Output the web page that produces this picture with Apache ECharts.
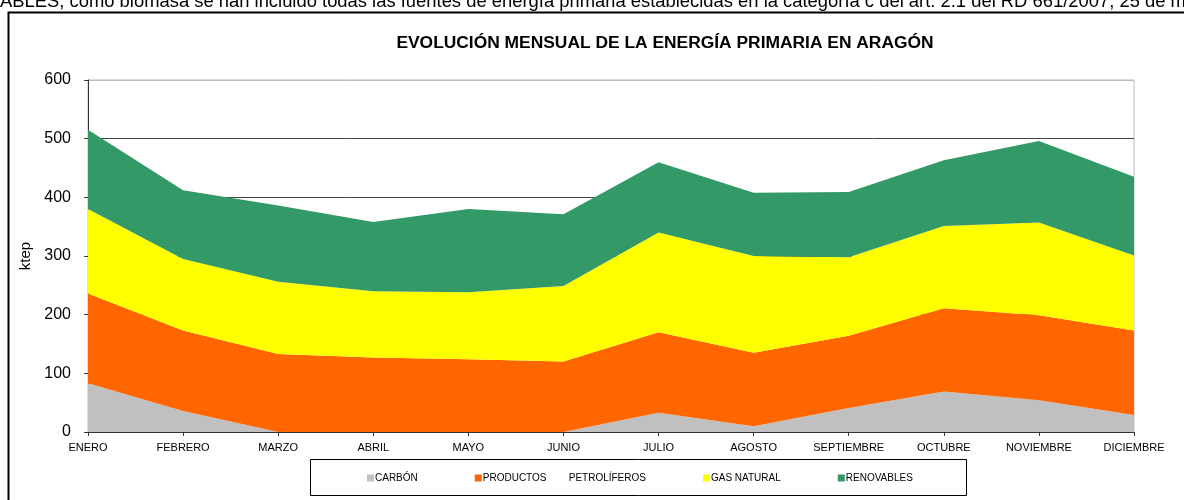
<!DOCTYPE html>
<html>
<head>
<meta charset="utf-8">
<script src="https://cdn.jsdelivr.net/npm/echarts@6/dist/echarts.min.js"></script>
<style>html,body{margin:0;padding:0;background:#fff}#c{width:1184px;height:500px}</style>
</head>
<body>
<div id="c"></div>
<script>
const categories = ['ENERO','FEBRERO','MARZO','ABRIL','MAYO','JUNIO','JULIO','AGOSTO','SEPTIEMBRE','OCTUBRE','NOVIEMBRE','DICIEMBRE'];
const carbon = [83, 36, 0, 0, 0, 0, 33, 10, 41, 69, 54, 29];
const productos = [153, 137, 133, 127, 124, 120, 137, 125, 123, 142, 145, 144];
const gasNatural = [144, 122, 123, 113, 114, 129, 170, 165, 134, 140, 158, 128];
const renovables = [135, 117, 130, 118, 142, 122, 120, 108, 111, 112, 139, 134];
const yTicks = [0, 100, 200, 300, 400, 500, 600];
const seriesNames = ['CARBÓN', 'PRODUCTOS PETROLÍFEROS', 'GAS NATURAL', 'RENOVABLES'];
const colors = ['#C0C0C0', '#FF6600', '#FFFF00', '#339966'];

const chart = echarts.init(document.getElementById('c'), null, {renderer: 'canvas'});
const font = '"Liberation Sans", Arial, sans-serif';
const mk = (name, data, i) => ({
  name, type: 'line', stack: 'total', data,
  showSymbol: false, symbol: 'none',
  lineStyle: {width: 0},
  itemStyle: {color: colors[i]},
  areaStyle: {color: colors[i], opacity: 1},
  emphasis: {disabled: true}
});
chart.setOption({
  animation: false,
  color: colors,
  grid: {left: 88, right: 50, top: 80, bottom: 68, show: true, borderColor: '#BBBBBB', borderWidth: 1, backgroundColor: 'transparent'},
  title: {
    text: 'EVOLUCIÓN MENSUAL DE LA ENERGÍA PRIMARIA EN ARAGÓN',
    left: 660, top: 30, textAlign: 'center',
    textStyle: {fontFamily: font, fontSize: 17.4, fontWeight: 'bold', color: '#000'}
  },
  legend: {
    left: 367, top: 473, padding: 0,
    icon: 'rect', itemWidth: 7, itemHeight: 7, itemGap: 57,
    formatter: n => n === 'PRODUCTOS PETROLÍFEROS' ? 'PRODUCTOS        PETROLÍFEROS' : n,
    textStyle: {fontFamily: font, fontSize: 10, color: '#000', padding: [0, 0, 0, -4]},
    data: seriesNames
  },
  xAxis: {
    type: 'category', data: categories, boundaryGap: false,
    axisLine: {lineStyle: {color: '#333', width: 1}},
    axisTick: {show: true, length: 4, lineStyle: {color: '#333'}},
    axisLabel: {fontFamily: font, fontSize: 11, color: '#000', margin: 10, interval: 0}
  },
  yAxis: {
    type: 'value', min: 0, max: 600, interval: 100,
    axisLine: {show: true, lineStyle: {color: '#333', width: 1}},
    axisTick: {show: true, length: 4, lineStyle: {color: '#333'}},
    axisLabel: {fontFamily: font, fontSize: 16, color: '#000', margin: 17,
      formatter: v => yTicks.includes(v) ? String(v) : ''},
    splitLine: {show: true, lineStyle: {color: ['#333','#444','#444','#444','#444','#444','#BBBBBB'], width: 1}},
    name: 'ktep', nameLocation: 'middle', nameGap: 55, nameRotate: 90,
    nameTextStyle: {fontFamily: font, fontSize: 15, color: '#000'}
  },
  series: [
    mk(seriesNames[0], carbon, 0),
    mk(seriesNames[1], productos, 1),
    mk(seriesNames[2], gasNatural, 2),
    mk(seriesNames[3], renovables, 3)
  ],
  graphic: [
    {type: 'text', silent: true, style: {
      text: 'ABLES, como biomasa se han incluido todas las fuentes de energía primaria establecidas en la categoría c del art. 2.1 del RD 661/2007, 25 de m',
      x: 0, y: 11, verticalAlign: 'bottom', align: 'left', font: '18.4px "Liberation Sans", Arial, sans-serif', fill: '#000'}},
    {type: 'rect', silent: true, shape: {x: 8.5, y: 12.5, width: 1200, height: 600},
      style: {fill: 'none', stroke: '#000', lineWidth: 2}},
    {type: 'rect', silent: true, shape: {x: 310.5, y: 459.5, width: 656, height: 36},
      style: {fill: 'none', stroke: '#000', lineWidth: 1}}
  ]
});
</script>
</body>
</html>
